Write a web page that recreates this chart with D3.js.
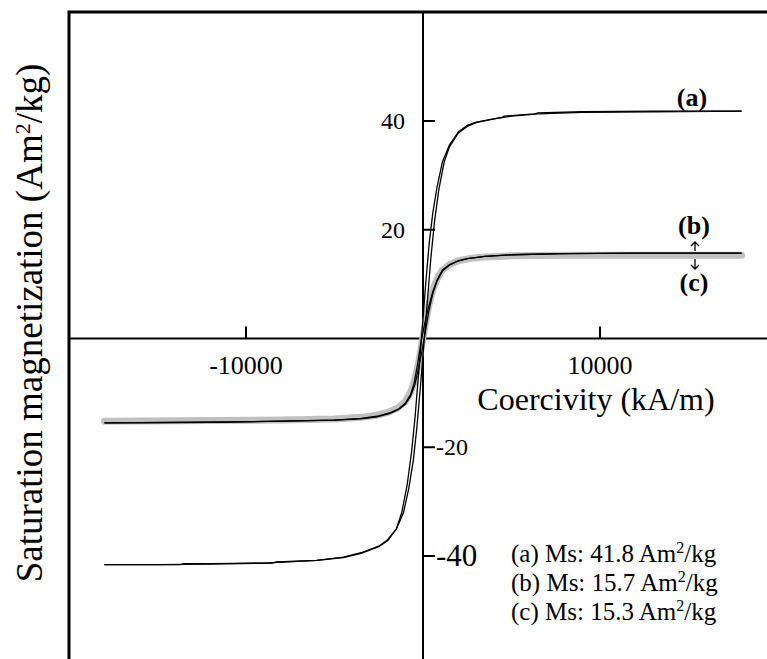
<!DOCTYPE html>
<html>
<head>
<meta charset="utf-8">
<script src="https://cdn.jsdelivr.net/npm/d3@7"></script>
<style>
  html, body { margin: 0; padding: 0; background: #fff; }
  svg { display: block; }
  text { font-family: "Liberation Serif", "Times New Roman", serif; fill: #000; }
</style>
</head>
<body>
<svg id="chart" width="767" height="659"></svg>
<script>
// Hysteresis loops: field H (kA/m) vs magnetization M (Am²/kg)
// (a) loop, branch coming down from positive saturation
const aDown = [[18000,41.8],[13000,41.8],[9000,41.7],[6500,41.5],[6300,41.3],[5000,41.0],[4600,40.9],[4400,40.6],[3000,39.8],[2500,39.2],[2000,38.0],[1500,35.6],[1100,32.5],[800,28.0],[550,23.0],[350,17.5],[150,10],[-50,1.5],[-250,-6.5],[-450,-14.5],[-650,-21.0],[-900,-27.0],[-1200,-32.0],[-1500,-35.0],[-2000,-37.2],[-2500,-38.3],[-3500,-39.5],[-4500,-40.3],[-6000,-40.8],[-8300,-41.1],[-8500,-41.3],[-12000,-41.4],[-13500,-41.4],[-13700,-41.6],[-18000,-41.6]];
// (a) loop, branch going up from negative saturation
const aUp = [[-18000,-41.6],[-15000,-41.6],[-12000,-41.5],[-9000,-41.3],[-6000,-40.8],[-4500,-40.2],[-3500,-39.4],[-2500,-38.2],[-2000,-37.0],[-1500,-35.0],[-1100,-32.0],[-800,-27.5],[-550,-22.5],[-350,-16.5],[-150,-9],[50,-1],[250,7],[450,15],[650,21.5],[900,27.5],[1200,32.5],[1500,35.3],[2000,37.8],[2500,39.0],[3000,39.7],[4000,40.4],[5000,40.9],[6500,41.3],[9000,41.6],[13000,41.7],[18000,41.8]];
// (b) loop branches
const bDown = [[18000,15.7],[12000,15.7],[8000,15.6],[5000,15.4],[3500,15.1],[2500,14.7],[2000,14.3],[1500,13.6],[1100,12.6],[800,10.8],[550,8.6],[300,5.6],[100,2.8],[-100,-0.4],[-300,-4.6],[-500,-8.2],[-700,-10.3],[-1000,-11.9],[-1400,-13.0],[-1900,-13.7],[-2600,-14.3],[-3500,-14.7],[-5000,-15.0],[-8000,-15.2],[-12000,-15.4],[-18000,-15.5]];
const bUp = [[-18000,-15.5],[-12000,-15.4],[-8000,-15.2],[-5000,-15.0],[-3500,-14.8],[-2600,-14.4],[-1900,-13.8],[-1400,-13.1],[-1000,-12.1],[-700,-10.6],[-450,-8.4],[-250,-5.4],[-50,-2.2],[150,1.6],[350,5.4],[550,8.2],[800,10.6],[1100,12.4],[1500,13.5],[2000,14.3],[2500,14.7],[3500,15.1],[5000,15.4],[8000,15.6],[12000,15.7],[18000,15.7]];
// (c) curve, drawn as a wide grey band
const cCurve = [[-18000,-15.2],[-12000,-15.1],[-8000,-15.0],[-5000,-14.8],[-3500,-14.5],[-2600,-14.1],[-1900,-13.5],[-1400,-12.7],[-1000,-11.6],[-700,-9.9],[-450,-7.4],[-250,-4.6],[-50,-0.6],[150,3.0],[350,6.4],[550,8.9],[800,11.0],[1100,12.6],[1500,13.6],[2000,14.3],[2600,14.7],[3500,15.0],[5000,15.2],[8000,15.3],[18000,15.3]];

const xTicks = [-10000, 10000];
const yTicksPos = [20, 40];
const yTicksNeg = [-20, -40];
const legendLines = [
  {tag: "(a) Ms: 41.8 Am", tail: "/kg"},
  {tag: "(b) Ms: 15.7 Am", tail: "/kg"},
  {tag: "(c) Ms: 15.3 Am", tail: "/kg"}
];
const curveTags = ["(a)", "(b)", "(c)"];

const svg = d3.select("#chart");

const x = d3.scaleLinear().domain([-10000, 10000]).range([246, 600]);
const y = d3.scaleLinear().domain([-40, 40]).range([556, 121]);
const x0 = x(0), y0 = y(0);

// outer frame (left and top edges run off the picture)
svg.append("rect")
  .attr("x", 69).attr("y", 12).attr("width", 760).attr("height", 700)
  .attr("fill", "none").attr("stroke", "#000").attr("stroke-width", 3);

// axes through the origin
svg.append("line").attr("x1", 69).attr("x2", 767).attr("y1", y0).attr("y2", y0)
  .attr("stroke", "#000").attr("stroke-width", 2);
svg.append("line").attr("x1", x0).attr("x2", x0).attr("y1", 12).attr("y2", 659)
  .attr("stroke", "#000").attr("stroke-width", 2);

// x ticks and labels
svg.selectAll(".xt").data(xTicks).enter().append("line")
  .attr("x1", d => x(d)).attr("x2", d => x(d)).attr("y1", y0 - 12).attr("y2", y0)
  .attr("stroke", "#000").attr("stroke-width", 2);
svg.selectAll(".xl").data(xTicks).enter().append("text")
  .attr("x", d => x(d)).attr("y", y0 + 35)
  .attr("text-anchor", "middle").attr("font-size", 26)
  .text(d => d);

// y ticks
svg.selectAll(".yt").data(yTicksPos.concat(yTicksNeg)).enter().append("line")
  .attr("x1", x0).attr("x2", x0 + 12).attr("y1", d => y(d)).attr("y2", d => y(d))
  .attr("stroke", "#000").attr("stroke-width", 2);
svg.selectAll(".ylp").data(yTicksPos).enter().append("text")
  .attr("x", x0 - 18).attr("y", d => y(d) + 8)
  .attr("text-anchor", "end").attr("font-size", 24)
  .text(d => d);
svg.selectAll(".yln").data(yTicksNeg).enter().append("text")
  .attr("x", x0 + 13).attr("y", d => y(d) + (d === -40 ? 10 : 8))
  .attr("font-size", d => d === -40 ? 31 : 24)
  .text(d => d);

// axis titles
svg.append("text")
  .attr("x", 596).attr("y", 410).attr("text-anchor", "middle").attr("font-size", 32)
  .text("Coercivity (kA/m)");
const yt = svg.append("text")
  .attr("transform", "translate(42,323) rotate(-90)")
  .attr("text-anchor", "middle").attr("font-size", 37);
yt.append("tspan").text("Saturation magnetization (Am");
yt.append("tspan").attr("dy", -12).attr("font-size", 22).text("2");
yt.append("tspan").attr("dy", 12).text("/kg)");

// curves
const line = d3.line().x(d => x(d[0])).y(d => y(d[1]));
svg.append("path").datum(cCurve).attr("d", line)
  .attr("fill", "none").attr("stroke", "#c0c0c0").attr("stroke-width", 7)
  .attr("stroke-linecap", "round").attr("stroke-linejoin", "round");
[bDown, bUp, aDown, aUp].forEach(s => {
  svg.append("path").datum(s).attr("d", line)
    .attr("fill", "none").attr("stroke", "#000").attr("stroke-width", 1.3);
});

// curve tags
const tagPos = [[692, 106], [694, 234], [694, 291]];
svg.selectAll(".tag").data(curveTags).enter().append("text")
  .attr("x", (d, i) => tagPos[i][0]).attr("y", (d, i) => tagPos[i][1])
  .attr("text-anchor", "middle").attr("font-size", 26).attr("font-weight", "bold")
  .text(d => d);

// small arrows pointing at (b) and (c)
const arrow = svg.append("g").attr("stroke", "#000").attr("stroke-width", 1.3).attr("fill", "none");
arrow.append("path").attr("d", "M695,251 L695,242 M691,246 L695,242 L699,246");
arrow.append("path").attr("d", "M695,259 L695,269 M691,265 L695,269 L699,265");

// legend with Ms values
const lg = svg.append("g");
legendLines.forEach((l, i) => {
  const t = lg.append("text").attr("x", 511).attr("y", 562 + i * 29).attr("font-size", 25);
  t.append("tspan").text(l.tag);
  t.append("tspan").attr("dy", -9).attr("font-size", 16).text("2");
  t.append("tspan").attr("dy", 9).text(l.tail);
});
</script>
</body>
</html>
